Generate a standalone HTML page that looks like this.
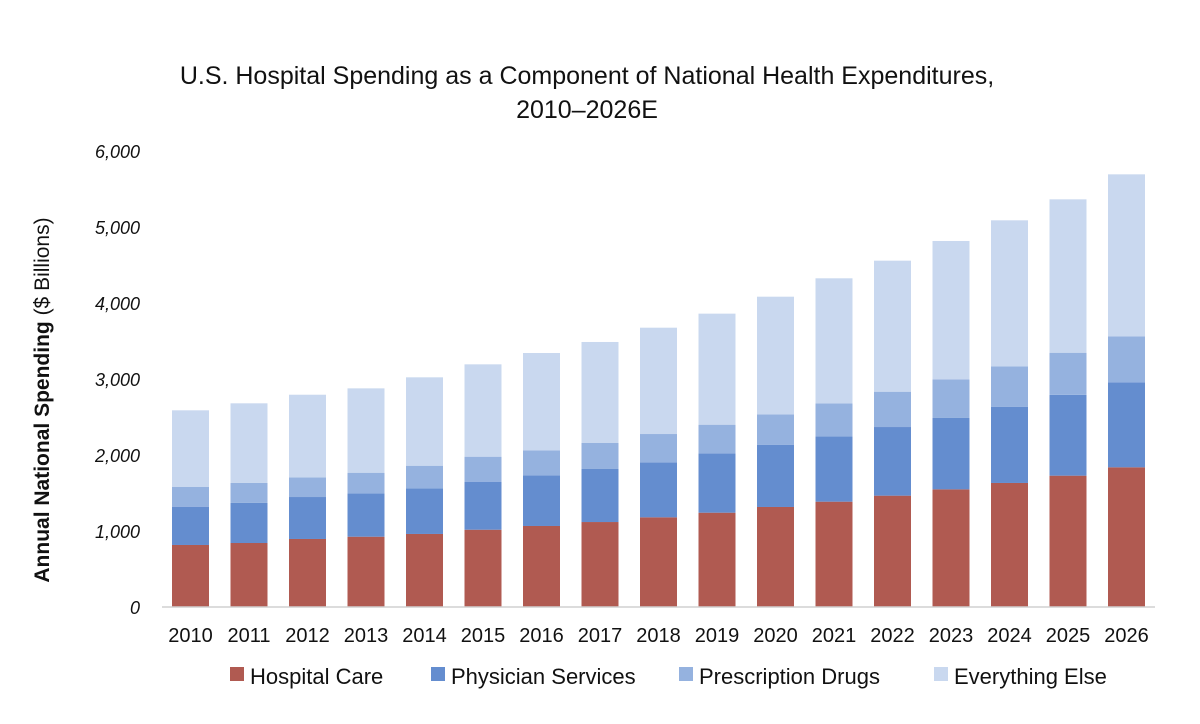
<!DOCTYPE html>
<html><head><meta charset="utf-8"><style>
html,body{margin:0;padding:0;background:#fff}
svg{display:block;font-family:"Liberation Sans",sans-serif}
</style></head><body>
<svg id="chart" width="1200" height="724" viewBox="0 0 1200 724">
<text x="587" y="84" text-anchor="middle" font-size="25" fill="#111">U.S. Hospital Spending as a Component of National Health Expenditures,</text>
<text x="587" y="118" text-anchor="middle" font-size="25" fill="#111">2010–2026E</text>
<text transform="translate(49,400) rotate(-90)" text-anchor="middle" font-size="21" fill="#111"><tspan font-weight="bold">Annual National Spending</tspan> ($ Billions)</text>
<g id="yticks"></g>
<g id="bars"></g>
<line x1="162" y1="607" x2="1155" y2="607" stroke="#d0d0d0" stroke-width="1.5"/>
<g id="xticks"></g>
<g id="legend"></g>
</svg>
<script>
const years = ["2010","2011","2012","2013","2014","2015","2016","2017","2018","2019","2020","2021","2022","2023","2024","2025","2026"];
const hospitalCare = [816,842,895,925,961,1017,1066,1118,1180,1241,1316,1386,1465,1548,1632,1728,1838];
const physicianServices = [504,530,552,571,600,632,667,698,724,781,816,860,903,943,1000,1063,1119];
const prescriptionDrugs = [259,260,259,271,298,329,329,342,372,377,403,434,465,505,535,555,605];
const everythingElse = [1009,1048,1087,1110,1163,1215,1280,1329,1399,1461,1548,1645,1724,1820,1921,2018,2131];
const yTicks = [0,1000,2000,3000,4000,5000,6000];
const seriesNames = ["Hospital Care","Physician Services","Prescription Drugs","Everything Else"];

const NS="http://www.w3.org/2000/svg";
const colors=["#b05a51","#648dcf","#95b2df","#c9d8ef"];
const y0=607, pxPer=76/1000;
const yScale=v=>y0-v*pxPer;
const x0=172, pitch=58.5, bw=37;
const xScale=i=>x0+i*pitch;
function mk(tag,attrs){const e=document.createElementNS(NS,tag);for(const k in attrs)e.setAttribute(k,attrs[k]);return e;}

const yt=document.getElementById('yticks');
yTicks.forEach(v=>{
  const t=mk('text',{x:140,y:yScale(v)+7,'text-anchor':'end','font-size':'18','font-style':'italic',fill:'#111'});
  
  
  t.textContent=v.toLocaleString('en-US');
  yt.appendChild(t);
});

const series=[hospitalCare,physicianServices,prescriptionDrugs,everythingElse];
const bars=document.getElementById('bars');
const xt=document.getElementById('xticks');
years.forEach((yr,i)=>{
  let cum=0;
  series.forEach((s,k)=>{
    const top=cum+s[i];
    const r=mk('rect',{x:xScale(i),y:yScale(top),width:bw,height:yScale(cum)-yScale(top),fill:colors[k]});
    
    
    bars.appendChild(r);
    cum=top;
  });
  const t=mk('text',{x:xScale(i)+bw/2,y:642,'text-anchor':'middle','font-size':'20',fill:'#111'});
  
  
  t.textContent=yr;
  xt.appendChild(t);
});

const lg=document.getElementById('legend');
const lx=[230,431,679,934];
seriesNames.forEach((n,k)=>{
  const r=mk('rect',{x:lx[k],y:667,width:14,height:14,fill:colors[k]});
  
  
  lg.appendChild(r);
  const t=mk('text',{x:lx[k]+20,y:684,'font-size':'22',fill:'#111'});
  
  
  t.textContent=n;
  lg.appendChild(t);
});
</script>
</body></html>
